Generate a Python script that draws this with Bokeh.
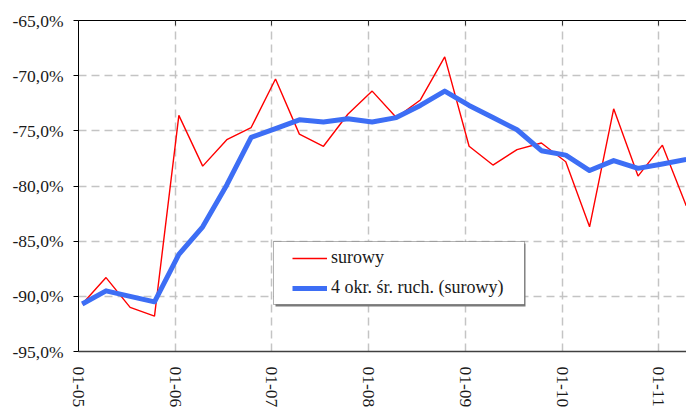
from datetime import datetime
import pandas as pd
from bokeh.plotting import figure
from bokeh.models import (FixedTicker, DatetimeAxis, Range1d, Legend, LegendItem,
                          BoxAnnotation, ColumnDataSource)
from bokeh.embed import file_html
from bokeh.resources import INLINE

# ---- data ----
dates = ["2005-01-15", "2005-04-15", "2005-07-15", "2005-10-15",
         "2006-01-15", "2006-04-15", "2006-07-15", "2006-10-15",
         "2007-01-15", "2007-04-15", "2007-07-15", "2007-10-15",
         "2008-01-15", "2008-04-15", "2008-07-15", "2008-10-15",
         "2009-01-15", "2009-04-15", "2009-07-15", "2009-10-15",
         "2010-01-15", "2010-04-15", "2010-07-15", "2010-10-15",
         "2011-01-15", "2011-04-15"]
surowy = [-90.7, -88.3, -91.0, -91.8, -73.6, -78.2, -75.8, -74.7,
          -70.3, -75.3, -76.4, -73.5, -71.4, -73.8, -72.2, -68.3,
          -76.4, -78.1, -76.7, -76.1, -77.8, -83.7, -73.0, -79.1,
          -76.3, -81.8]
srednia = [-90.7, -89.5, -90.0, -90.5, -86.2, -83.7, -79.9, -75.6,
           -74.8, -74.0, -74.2, -73.9, -74.2, -73.8, -72.7, -71.4,
           -72.7, -73.8, -74.9, -76.8, -77.2, -78.6, -77.7, -78.4,
           -78.0, -77.6]
x_tick_dates = ["2005-01-01", "2006-01-01", "2007-01-01", "2008-01-01",
                "2009-01-01", "2010-01-01", "2011-01-01"]
x_tick_labels = ["01-05", "01-06", "01-07", "01-08", "01-09", "01-10", "01-11"]
y_ticks = [-95, -90, -85, -80, -75, -70, -65]
y_tick_labels = ["-95,0%", "-90,0%", "-85,0%", "-80,0%", "-75,0%", "-70,0%", "-65,0%"]
series_names = ["surowy", "4 okr. śr. ruch. (surowy)"]

FONT = "Liberation Serif"
FSIZE = "17.5px"
TXT = "#1a1a1a"

src = ColumnDataSource(dict(x=pd.to_datetime(dates), raw=surowy, ma=srednia))

p = figure(width=686, height=410, output_backend="svg", toolbar_location=None,
           x_axis_type="datetime",
           x_range=Range1d(datetime(2005, 1, 1), datetime(2011, 4, 16)),
           y_range=Range1d(-95, -65),
           min_border_left=78, min_border_right=0, min_border_top=20,
           min_border_bottom=59)
p.outline_line_color = None
p.background_fill_color = "white"

r1 = p.line("x", "raw", source=src, line_color="#ff0000", line_width=1.4)
r2 = p.line("x", "ma", source=src, line_color="#3d6ef5", line_width=5,
            line_join="round")

xt = [float(pd.Timestamp(d).value // 10**6) for d in x_tick_dates]
xover = {t: l for t, l in zip(xt, x_tick_labels)}

xa = p.xaxis[0]
xa.ticker = FixedTicker(ticks=xt)
xa.major_label_overrides = xover
xa.major_label_orientation = "vertical"
xa.major_label_standoff = 15
xa.major_tick_out = 0
xa.major_tick_in = 0
xa.minor_tick_out = 0
xa.axis_line_color = "#404040"
xa.axis_line_width = 1.5
xa.major_label_text_font = FONT
xa.major_label_text_font_size = FSIZE
xa.major_label_text_color = TXT

top = DatetimeAxis(ticker=FixedTicker(ticks=xt), major_label_text_font_size="1px",
                   major_label_text_color=None,
                   major_tick_in=5, major_tick_out=0, minor_tick_out=0,
                   major_label_standoff=0, axis_line_color="black",
                   major_tick_line_color="#333333")
p.add_layout(top, "above")

ya = p.yaxis[0]
ya.ticker = FixedTicker(ticks=y_ticks)
ya.major_label_overrides = {t: l for t, l in zip(y_ticks, y_tick_labels)}
ya.major_tick_out = 5
ya.major_tick_in = 0
ya.minor_tick_out = 0
ya.major_label_standoff = 10
ya.axis_line_color = "black"
ya.major_tick_line_color = "black"
ya.major_label_text_font = FONT
ya.major_label_text_font_size = FSIZE
ya.major_label_text_color = TXT

for g in (p.xgrid[0], p.ygrid[0]):
    g.grid_line_color = "#c4c4c4"
    g.grid_line_dash = "8 5"
    g.grid_line_width = 1.5
p.xgrid[0].ticker = FixedTicker(ticks=xt)
p.ygrid[0].ticker = FixedTicker(ticks=[-90, -85, -80, -75, -70])

# legend frame (shadow + box)
shadow = BoxAnnotation(left=197, right=447, bottom=45, top=108,
                       left_units="screen", right_units="screen",
                       bottom_units="screen", top_units="screen",
                       fill_color="#7a7a7a", fill_alpha=1.0, line_color=None,
                       level="annotation")
box = BoxAnnotation(left=195, right=446, bottom=47, top=110,
                    left_units="screen", right_units="screen",
                    bottom_units="screen", top_units="screen",
                    fill_color="white", fill_alpha=1.0, line_color="black",
                    line_width=1, level="annotation")
p.add_layout(shadow)
p.add_layout(box)

legend = Legend(items=[LegendItem(label=series_names[0], renderers=[r1]),
                       LegendItem(label=series_names[1], renderers=[r2])],
                location=(214, 53), padding=20, spacing=9, glyph_width=35,
                glyph_height=20, label_height=20, label_standoff=4,
                border_line_color=None, background_fill_alpha=0,
                label_text_font=FONT, label_text_font_size="18px",
                label_text_color=TXT)
p.add_layout(legend, "center")

open("out.html", "w").write(file_html(p, INLINE))
